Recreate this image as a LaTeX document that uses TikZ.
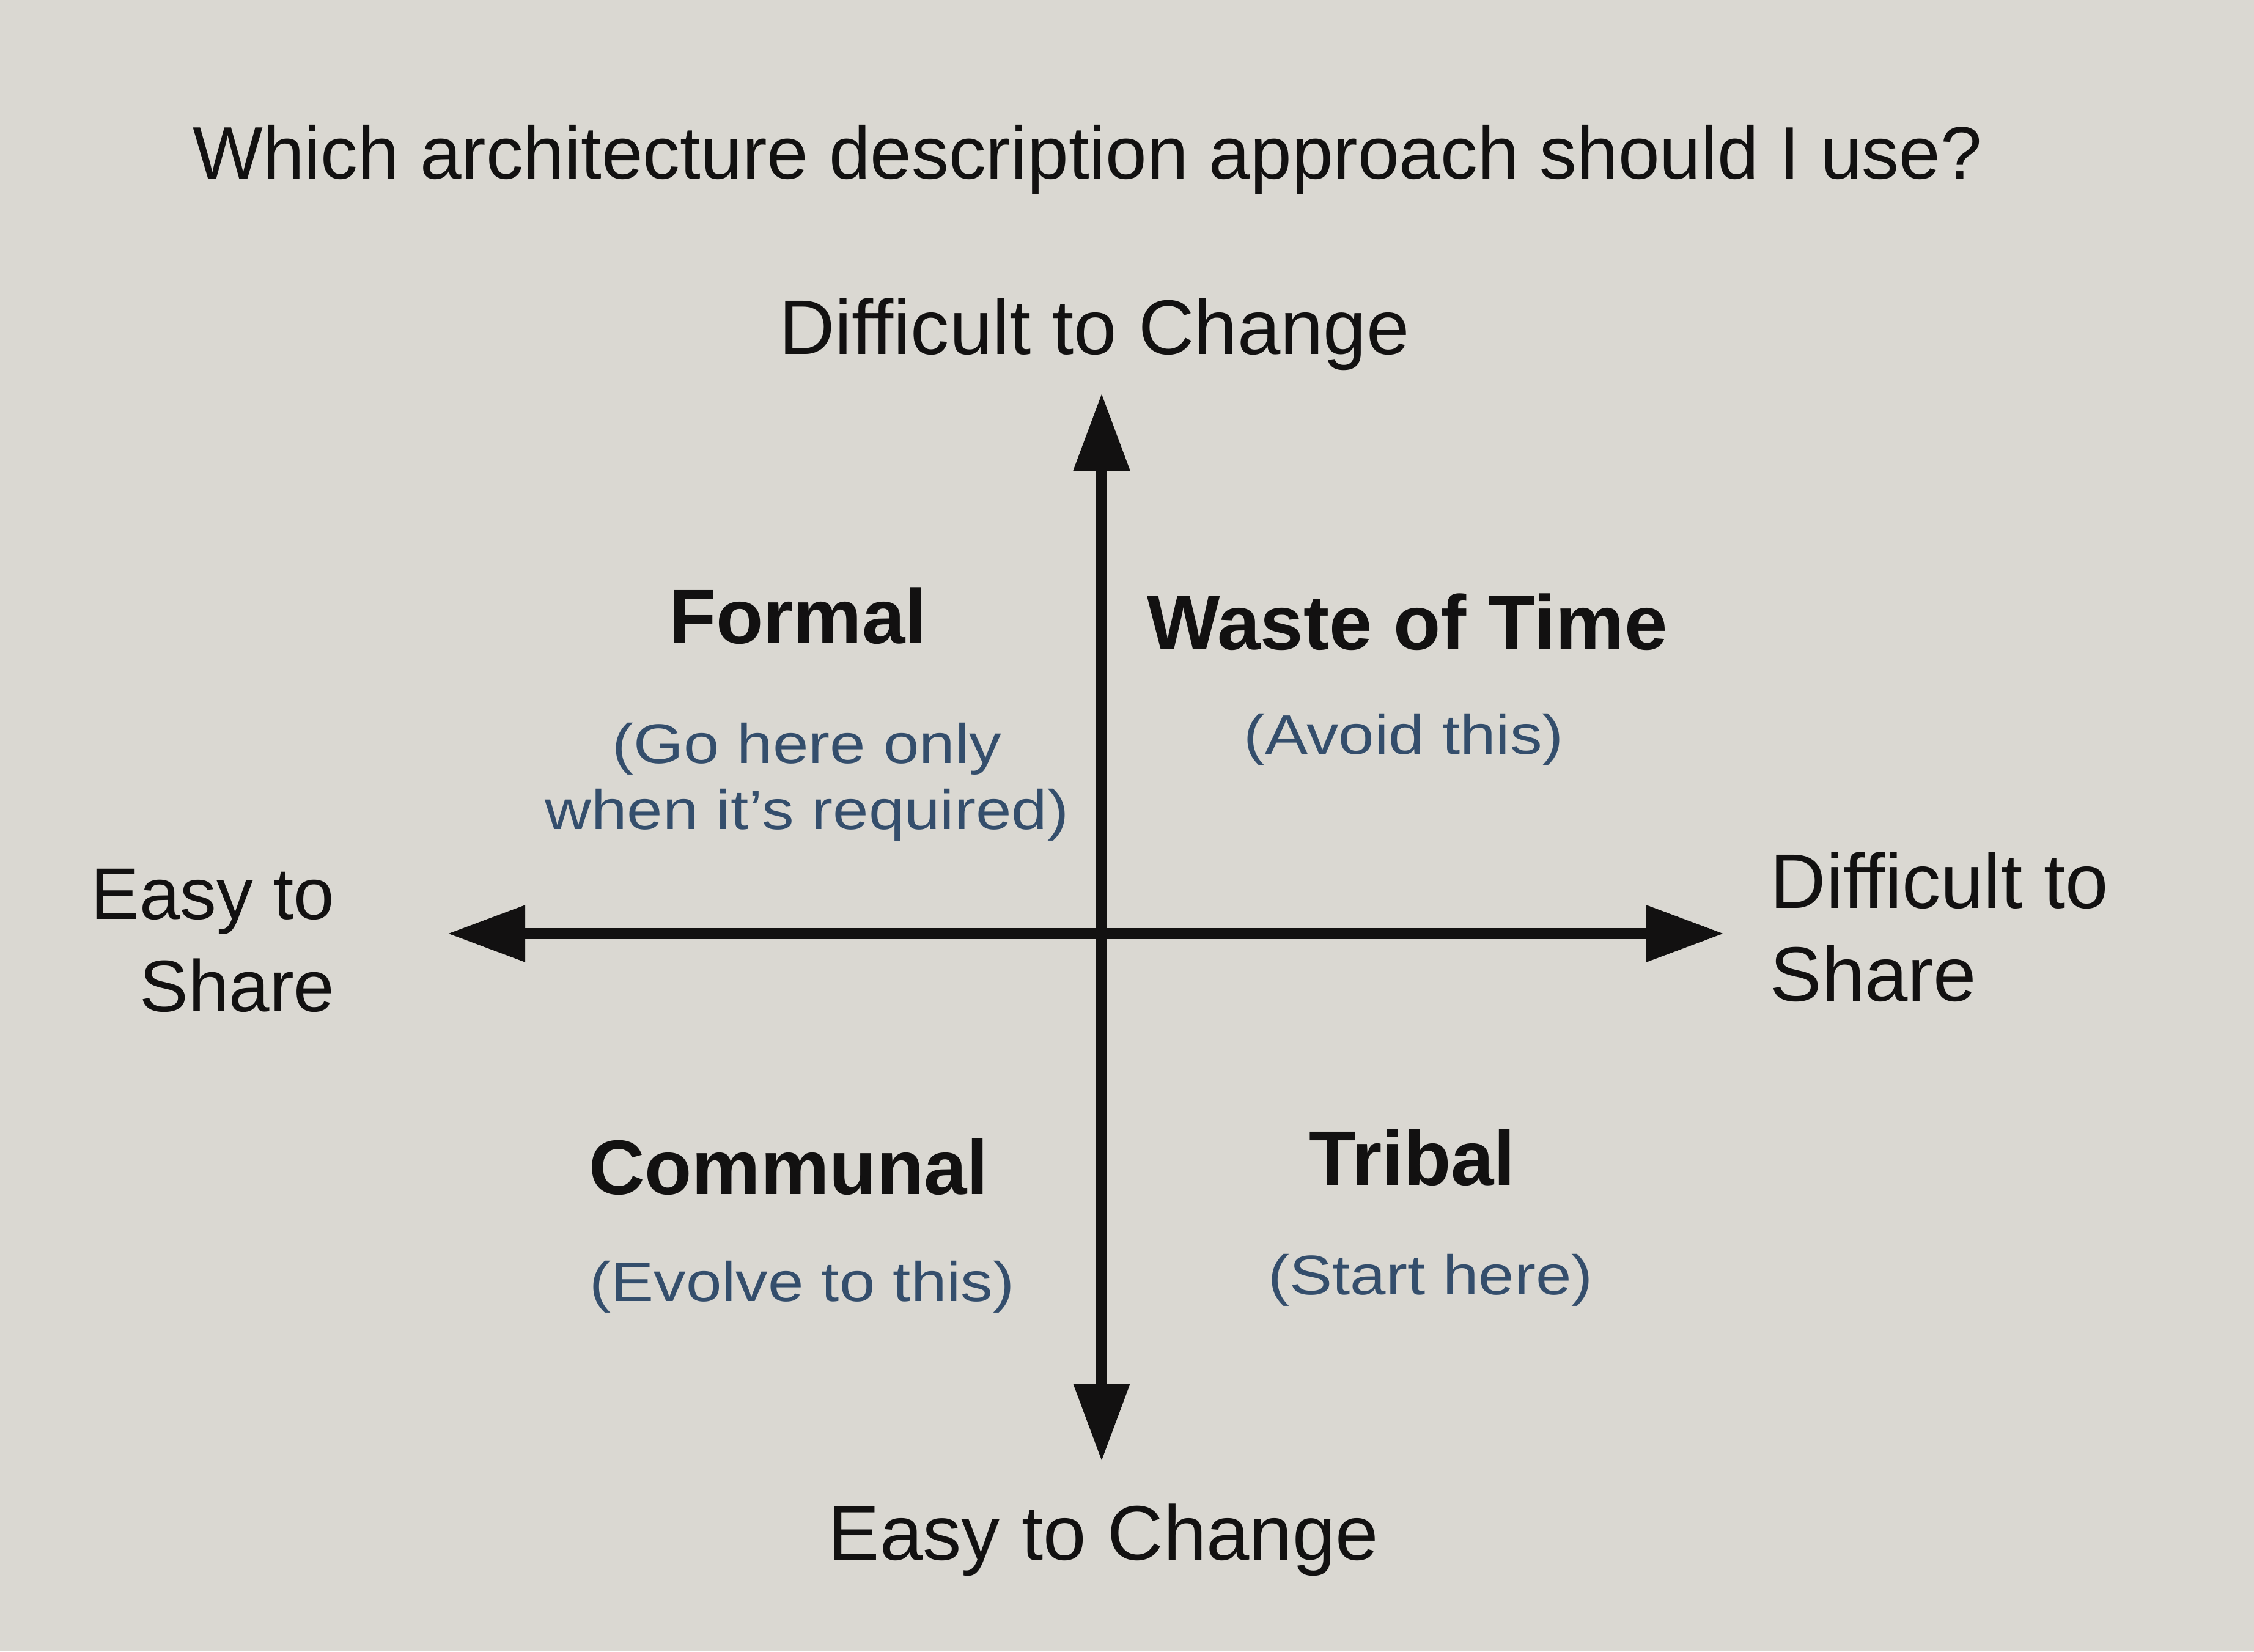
\documentclass[tikz,border=0pt]{standalone}
\usepackage{fontspec}
\setmainfont{Liberation Sans}
\newfontfamily\notefont[FakeStretch=1.15]{Liberation Sans}
\usepackage{tikz}
\usetikzlibrary{arrows.meta}
\definecolor{paper}{RGB}{218,216,210}
\definecolor{ink}{RGB}{18,17,17}
\definecolor{noteblue}{RGB}{52,78,108}

\begin{document}
\begin{tikzpicture}[
    every node/.style={inner sep=0pt, text=ink},
    biglabel/.style={font=\fontsize{36}{43.2}\selectfont},
    quadname/.style={font=\fontsize{36}{43.2}\selectfont\bfseries},
    quadnote/.style={font=\notefont\fontsize{26}{31}\selectfont, text=noteblue, align=center},
    axis/.style={line width=5.2pt, draw=ink, {Triangle[length=12.7mm,width=8.8mm]}-{Triangle[length=12.7mm,width=8.8mm]}}
]

    % page
    \fill[paper] (0,0) rectangle (36.87,27.01);

    \node[biglabel, font=\fontsize{34.6}{41}\selectfont, anchor=base] (title) at (17.79,24.08) {Which architecture description approach should I use?};

    % axes
    \coordinate (top) at (18.02,20.58);
    \coordinate (bottom) at (18.02,3.11);
    \coordinate (west) at (7.32,11.74);
    \coordinate (east) at (28.20,11.74);
    \draw[axis] (bottom) -- (top);
    \draw[axis] (west) -- (east);

    \node[biglabel, anchor=base] (hardchange) at (17.90,21.21) {Difficult to Change};
    \node[biglabel, anchor=base] (easychange) at (18.05,1.50) {Easy to Change};
    % base of a two line node = last line
    \node[biglabel, font=\fontsize{34}{43.2}\selectfont, anchor=base east, align=right] (easyshare) at (5.48,10.46) {Easy to\\Share};
    \node[biglabel, anchor=base west, align=left] (hardshare) at (28.95,10.64) {Difficult to\\Share};

    % quadrants
    \node[quadname, anchor=base] (formal) at (13.05,16.48) {Formal};
    \node[quadnote, anchor=base] (formalnote) at (13.20,13.44) {(Go here only\\when it’s required)};
    \node[quadname, anchor=base] (waste) at (23.02,16.38) {Waste of Time};
    \node[quadnote, anchor=base] (wastenote) at (22.96,14.67) {(Avoid this)};
    \node[quadname, anchor=base] (communal) at (12.90,7.48) {Communal};
    \node[quadnote, anchor=base] (communalnote) at (13.12,5.73) {(Evolve to this)};
    \node[quadname, anchor=base] (tribal) at (23.10,7.63) {Tribal};
    \node[quadnote, anchor=base] (tribalnote) at (23.40,5.84) {(Start here)};

\end{tikzpicture}
\end{document}
